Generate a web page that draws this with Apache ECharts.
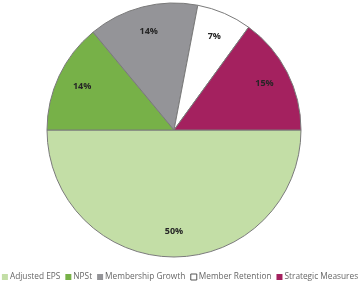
<!DOCTYPE html>
<html><head><meta charset="utf-8">
<script src="https://cdn.jsdelivr.net/npm/echarts@6/dist/echarts.min.js"></script>
<style>html,body{margin:0;padding:0;background:#fff}#c{width:360px;height:283px}</style>
</head><body><div id="c"></div>
<script>
const categories = ['Adjusted EPS', 'NPSt', 'Membership Growth', 'Member Retention', 'Strategic Measures'];
const values = [50, 14, 14, 7, 15];
const colors = ['#c3dea6', '#77b148', '#949498', '#ffffff', '#a4215f'];

const chart = echarts.init(document.getElementById('c'), null, {renderer: 'canvas'});
const baseData = categories.map((n, i) => ({name: n, value: values[i], itemStyle: {color: colors[i]}}));
chart.setOption({
  animation: false,
  legend: {
    bottom: 2, left: 'center', padding: 0, width: 360,
    itemWidth: 6, itemHeight: 6, itemGap: 5,
    icon: 'rect',
    textStyle: {fontFamily: 'Open Sans', fontSize: 8.3, color: '#666666', padding: [0, 0, 0, -3]},
    data: categories.map((n, i) => ({name: n, itemStyle: i === 3 ? {color: '#fff', borderColor: '#555', borderWidth: 1} : {color: colors[i], borderWidth: 0}}))
  },
  series: [
    {
      type: 'pie', center: [174, 130], radius: 127, startAngle: 0, clockwise: true,
      itemStyle: {borderColor: '#7a7a7a', borderWidth: 1},
      label: {show: false}, labelLine: {show: false},
      emphasis: {disabled: true},
      data: baseData
    },
    {
      type: 'pie', center: [174, 130], radius: [70, 127], startAngle: 0, clockwise: true,
      silent: true,
      itemStyle: {color: 'rgba(0,0,0,0)', borderWidth: 0},
      label: {show: true, position: 'inside', formatter: '{c}%', fontFamily: 'Open Sans', fontWeight: 'bold', fontSize: 9, color: '#262626'},
      labelLine: {show: false},
      emphasis: {disabled: true},
      data: categories.map((n, i) => ({name: n, value: values[i]}))
    }
  ]
});
</script></body></html>
